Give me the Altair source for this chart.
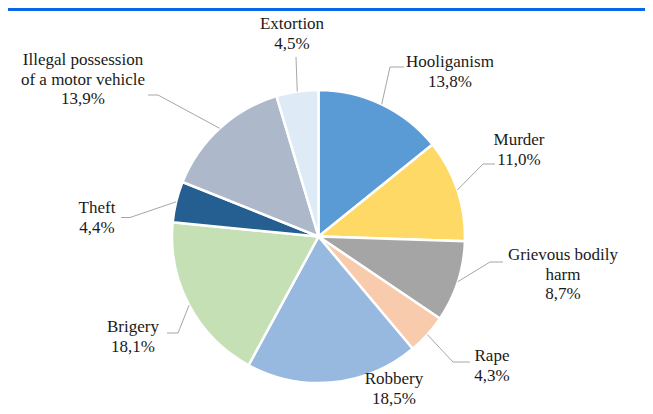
import math
import altair as alt
import pandas as pd

# ---- data ----
names = ["Hooliganism", "Murder", "Grievous bodily harm", "Rape", "Robbery",
         "Brigery", "Theft", "Illegal possession of a motor vehicle", "Extortion"]
label_names = ["Hooliganism", "Murder", "Grievous bodily\nharm", "Rape", "Robbery",
               "Brigery", "Theft", "Illegal possession\nof a motor vehicle", "Extortion"]
values = [13.8, 11.0, 8.7, 4.3, 18.5, 18.1, 4.4, 13.9, 4.5]
colors = ["#5B9BD5", "#FFD966", "#A5A5A5", "#F8CBAD", "#97B9E0",
          "#C5E0B4", "#255E91", "#ADB9CA", "#DEEBF7"]

# ---- layout (page pixel coordinates; y = centre of first text line) ----
OFF = 8
CX, CY, R = 318.5, 236.5, 146.5
label_x = [450, 519, 563, 492, 394, 133, 97, 83, 292]
label_y = [62, 140, 255, 356, 379, 327, 208, 60, 24]
elbow = [(390, 67), (483, 164), (490, 262), (453, 362), None,
         (178, 333), (130, 217.5), (158, 95), (296, 57)]
end = [(404, 67), (495, 164), (503, 262), (470, 362), None,
       (167, 333), (121, 217.5), (148, 95), (296, 57)]

# ---- tables ----
pie_df = pd.DataFrame({"name": names, "value": values, "idx": list(range(len(names)))})

total = sum(values)
cum = 0.0
lead_rows = []
for i, v in enumerate(values):
    mid = (cum + v / 2) / total * 2 * math.pi
    cum += v
    if elbow[i] is None:
        continue
    sx = CX + R * math.sin(mid)
    sy = CY - R * math.cos(mid)
    pts = [(sx, sy), elbow[i], end[i]]
    for k, (px, py) in enumerate(pts):
        lead_rows.append({"name": names[i], "k": k, "px": px - OFF, "py": py - OFF})
lead_df = pd.DataFrame(lead_rows)

lab_df = pd.DataFrame({
    "name": names,
    "text": [f"{n}\n{format(v, '.1f').replace('.', ',')}%" for n, v in zip(label_names, values)],
    "px": [x - OFF for x in label_x],
    "py": [y - OFF for y in label_y],
})

pie = alt.Chart(pie_df).mark_arc(stroke="white", strokeWidth=2.5).encode(
    theta=alt.Theta("value:Q", stack=True),
    order=alt.Order("idx:Q"),
    color=alt.Color("name:N", scale=alt.Scale(domain=names, range=colors), legend=None),
    x=alt.value(CX - OFF),
    y=alt.value(CY - OFF),
    radius=alt.value(R),
)

leaders = alt.Chart(lead_df).mark_line(color="#a6a6a6", strokeWidth=1).encode(
    x=alt.X("px:Q", scale=None),
    y=alt.Y("py:Q", scale=None),
    detail="name:N",
    order="k:Q",
)

labels = alt.Chart(lab_df).mark_text(
    align="center", baseline="middle", lineBreak="\n",
    font="Liberation Serif, Tinos, Times New Roman, DejaVu Serif, serif",
    fontSize=17, lineHeight=19.5, color="#1a1a1a",
).encode(
    x=alt.X("px:Q", scale=None),
    y=alt.Y("py:Q", scale=None),
    text="text:N",
)

topline = alt.Chart(pd.DataFrame({"a": [0]})).mark_rule(color="#0a66e8", strokeWidth=3).encode(
    x=alt.value(-2), x2=alt.value(645), y=alt.value(1.6)
)

chart = alt.layer(pie, leaders, labels, topline).properties(
    width=637, height=398, padding=0, autosize="none"
).configure_view(stroke=None)

chart.save("out.html", embed_options={"renderer": "svg", "actions": False})
